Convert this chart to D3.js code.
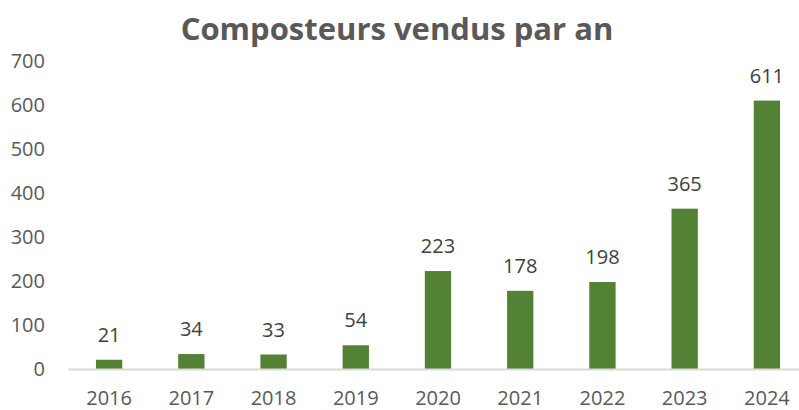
<!DOCTYPE html>
<html>
<head>
<meta charset="utf-8">
<script src="https://cdn.jsdelivr.net/npm/d3@7"></script>
<style>
  body { margin: 0; background: #fff; }
  text { font-family: "Open Sans", sans-serif; }
</style>
</head>
<body>
<div id="chart"></div>
<script>
// data
var years = ["2016", "2017", "2018", "2019", "2020", "2021", "2022", "2023", "2024"];
var sold = [21, 34, 33, 54, 223, 178, 198, 365, 611];
var yTicks = [0, 100, 200, 300, 400, 500, 600, 700];

var width = 799, height = 410;

var svg = d3.select("#chart")
  .append("svg")
    .attr("width", width)
    .attr("height", height);

// title
svg.append("text")
  .attr("x", 397)
  .attr("y", 40)
  .attr("text-anchor", "middle")
  .style("font-size", "31px")
  .style("font-weight", "bold")
  .style("fill", "#595959")
  .text("Composteurs vendus par an");

// scales
var x = d3.scaleBand()
  .domain(years)
  .range([68, 808])
  .paddingInner(0.68)
  .paddingOuter(0.34);

var y = d3.scaleLinear()
  .domain([0, 700])
  .range([369, 61.5]);

// y axis labels
var yAxis = svg.append("g")
  .attr("transform", "translate(45,0)")
  .call(d3.axisLeft(y).tickValues(yTicks).tickSize(0).tickPadding(0));
yAxis.select(".domain").remove();
yAxis.selectAll("text")
  .style("font-size", "20px")
  .style("fill", "#595959")
  .style("font-family", "'Open Sans', sans-serif");

// bars
svg.selectAll("rect.bar")
  .data(sold)
  .enter()
  .append("rect")
    .attr("class", "bar")
    .attr("x", function(d, i) { return x(years[i]); })
    .attr("y", function(d) { return y(d); })
    .attr("width", x.bandwidth())
    .attr("height", function(d) { return y(0) - y(d); })
    .attr("fill", "#548235");

// x axis
var xAxis = svg.append("g")
  .attr("transform", "translate(0," + y(0) + ")")
  .call(d3.axisBottom(x).tickSize(0).tickPadding(22));
xAxis.select(".domain")
  .attr("stroke", "#d9d9d9")
  .attr("stroke-width", 2);
xAxis.selectAll("text")
  .style("font-size", "20px")
  .style("fill", "#595959")
  .style("font-family", "'Open Sans', sans-serif");

// value labels
svg.selectAll("text.val")
  .data(sold)
  .enter()
  .append("text")
    .attr("class", "val")
    .attr("x", function(d, i) { return x(years[i]) + x.bandwidth() / 2; })
    .attr("y", function(d) { return y(d) - 18; })
    .attr("text-anchor", "middle")
    .style("font-size", "20px")
    .style("fill", "#404040")
    .text(function(d) { return d; });
</script>
</body>
</html>
